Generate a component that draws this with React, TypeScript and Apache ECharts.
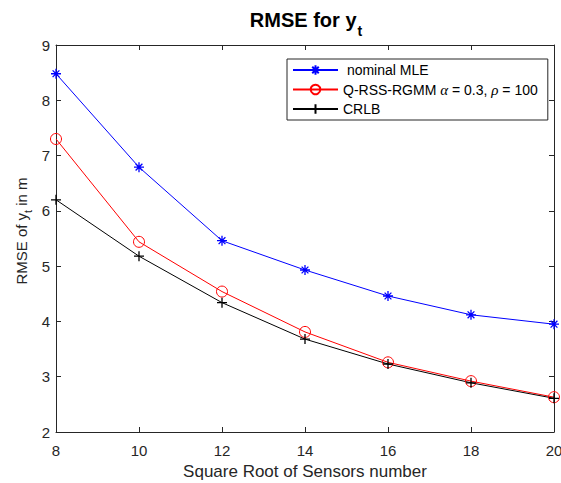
import React, { useEffect, useRef } from "react";
import * as echarts from "echarts";

const xValues = [8, 10, 12, 14, 16, 18, 20];
const nominalMLE = [8.48, 6.79, 5.46, 4.93, 4.46, 4.12, 3.95];
const qrssRGMM = [7.3, 5.44, 4.54, 3.81, 3.26, 2.92, 2.63];
const crlb = [6.2, 5.18, 4.34, 3.68, 3.23, 2.89, 2.61];
const seriesNames = ["nominal MLE", "Q-RSS-RGMM", "CRLB"];

const FONT = "Liberation Sans, Arial, Helvetica, sans-serif";
const SERIF = "Liberation Serif, DejaVu Serif, serif";
const AX = "#262626";

const ASTERISK = "path://M0,5L10,5M5,0L5,10M1.6,1.6L8.4,8.4M1.6,8.4L8.4,1.6";
const PLUS = "path://M0,5L10,5M5,0L5,10";

export default function App() {
  const ref = useRef<HTMLDivElement>(null);
  useEffect(() => {
    if (!ref.current) return;
    const chart = echarts.init(ref.current, undefined, { renderer: "svg" });
    const toPts = (arr: number[]) => xValues.map((x, i) => [x, arr[i]]);
    const lineCommon = {
      type: "line",
      showSymbol: true,
      z: 3,
    };
    chart.setOption({
      animation: false,
      backgroundColor: "#fff",
      textStyle: { fontFamily: FONT },
      grid: { left: 56, right: 7, top: 45, bottom: 51, outerBoundsMode: "none", containLabel: false },
      graphic: [
        {
          type: "text",
          x: 306,
          y: 20,
          style: {
            text: "{a|RMSE for y}{b|t}",
            align: "center",
            verticalAlign: "middle",
            rich: {
              a: { fontSize: 20, fontWeight: "bold", fontFamily: FONT, fill: "#000" },
              b: { fontSize: 14, fontWeight: "bold", fontFamily: FONT, fill: "#000", padding: [22, 0, 0, 1] },
            },
          },
        },
        {
          type: "text",
          x: 21,
          y: 231,
          rotation: Math.PI / 2,
          style: {
            text: "{a|RMSE of y}{b|t}{a| in m}",
            align: "center",
            verticalAlign: "middle",
            rich: {
              a: { fontSize: 15, fontFamily: FONT, fill: AX },
              b: { fontSize: 11, fontFamily: FONT, fill: AX, padding: [14, 0, 0, 0] },
            },
          },
        },
      ],
      legend: {
        orient: "vertical",
        left: 287,
        top: 59,
        data: seriesNames,
        selectedMode: false,
        itemWidth: 45,
        itemHeight: 12,
        itemGap: 5,
        padding: [4, 10, 4, 5],
        borderColor: AX,
        borderWidth: 1,
        backgroundColor: "#fff",
        formatter: (name: string) => {
          if (name === "Q-RSS-RGMM") return "{t|Q-RSS-RGMM }{g|α}{t| = 0.3, }{g|ρ}{t| = 100}";
          if (name === "nominal MLE") return "{t| nominal MLE}";
          return "{t|" + name + "}";
        },
        textStyle: {
          color: "#000",
          fontSize: 14,
          fontFamily: FONT,
          rich: {
            t: { fontSize: 14, fontFamily: FONT, color: "#000" },
            g: { fontSize: 15, fontFamily: SERIF, fontStyle: "italic", color: "#000" },
          },
        },
      },
      xAxis: [
        {
          type: "value",
          min: 8,
          max: 20,
          interval: 2,
          name: "Square Root of Sensors number",
          nameLocation: "middle",
          nameGap: 28,
          nameTextStyle: { fontSize: 17, color: AX, fontFamily: FONT },
          axisLine: { lineStyle: { color: AX, width: 1 } },
          axisTick: { inside: true, length: 5, lineStyle: { color: AX } },
          axisLabel: { fontSize: 15, color: AX, margin: 11, fontFamily: FONT },
          splitLine: { show: false },
        },
        {
          type: "value",
          position: "top",
          min: 8,
          max: 20,
          interval: 2,
          axisLine: { show: true, lineStyle: { color: AX, width: 1 } },
          axisTick: { show: true, inside: true, length: 5, lineStyle: { color: AX } },
          axisLabel: { show: false },
          splitLine: { show: false },
        },
      ],
      yAxis: [
        {
          type: "value",
          min: 2,
          max: 9,
          interval: 1,
          axisLine: { show: true, lineStyle: { color: AX, width: 1 } },
          axisTick: { show: true, inside: true, length: 5, lineStyle: { color: AX } },
          axisLabel: { fontSize: 15, color: AX, margin: 6, fontFamily: FONT },
          splitLine: { show: false },
        },
        {
          type: "value",
          position: "right",
          min: 2,
          max: 9,
          interval: 1,
          axisLine: { show: true, lineStyle: { color: AX, width: 1 } },
          axisTick: { show: true, inside: true, length: 5, lineStyle: { color: AX } },
          axisLabel: { show: false },
          splitLine: { show: false },
        },
      ],
      series: [
        {
          ...lineCommon,
          name: seriesNames[0],
          data: toPts(nominalMLE),
          symbol: ASTERISK,
          symbolSize: 10,
          lineStyle: { color: "#0000ff", width: 1 },
          itemStyle: { color: "rgba(0,0,0,0)", borderColor: "#0000ff", borderWidth: 1.3 },
        },
        {
          ...lineCommon,
          name: seriesNames[1],
          data: toPts(qrssRGMM),
          symbol: "circle",
          symbolSize: 11,
          lineStyle: { color: "#ff0000", width: 1 },
          itemStyle: { color: "rgba(0,0,0,0)", borderColor: "#ff0000", borderWidth: 1 },
        },
        {
          ...lineCommon,
          name: seriesNames[2],
          data: toPts(crlb),
          symbol: PLUS,
          symbolSize: 10,
          lineStyle: { color: "#000000", width: 1 },
          itemStyle: { color: "rgba(0,0,0,0)", borderColor: "#000000", borderWidth: 1.3 },
        },
      ],
    });
    return () => chart.dispose();
  }, []);
  return <div ref={ref} style={{ width: 561, height: 483, position: "absolute", left: 0, top: 0 }} />;
}
